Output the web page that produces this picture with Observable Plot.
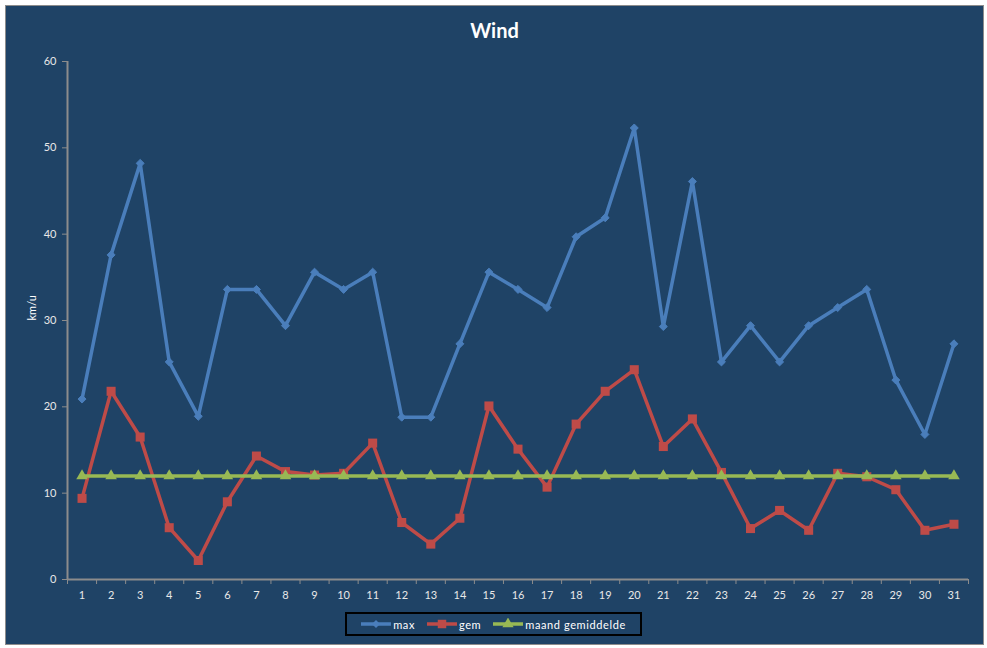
<!DOCTYPE html>
<html>
<head>
<meta charset="utf-8">
<script src="https://cdn.jsdelivr.net/npm/d3@7"></script>
<script src="https://cdn.jsdelivr.net/npm/@observablehq/plot@0.6"></script>
<style>
  body { margin: 0; background: #ffffff; font-family: Lato, "Open Sans", sans-serif; }
  #frame { position: absolute; left: 5px; top: 5px; width: 979px; height: 640px; box-sizing: border-box;
           border: 1px solid #8c8c8c; background: #1f4366; overflow: hidden; }
  #title { position: absolute; left: 0; top: 12px; width: 100%; text-align: center; color: #ffffff;
           font-weight: bold; font-size: 20px; line-height: 24px; }
  #chart { position: absolute; left: 0; top: 40px; }
  #legend { position: absolute; left: 339px; top: 606px; width: 297px; height: 24px; box-sizing: border-box;
            border: 2px solid #000000; display: flex; align-items: center; justify-content: center;
            color: #ffffff; font-size: 11px; letter-spacing: 0.6px; }
  .item { display: flex; align-items: center; margin: 0 6px; }
  .item svg { margin-right: 2px; }
</style>
</head>
<body>
<div id="frame">
  <div id="title">Wind</div>
  <div id="chart"></div>
  <div id="legend"></div>
</div>
<script>
const days = [1,2,3,4,5,6,7,8,9,10,11,12,13,14,15,16,17,18,19,20,21,22,23,24,25,26,27,28,29,30,31];
const maxValues = [20.9,37.6,48.2,25.2,18.9,33.6,33.6,29.4,35.6,33.6,35.6,18.8,18.8,27.3,35.6,33.6,31.5,39.7,41.9,52.3,29.3,46.1,25.2,29.4,25.2,29.4,31.5,33.6,23.1,16.8,27.3];
const gemValues = [9.4,21.8,16.5,6.0,2.2,9.0,14.3,12.5,12.1,12.3,15.8,6.6,4.1,7.1,20.1,15.1,10.7,18.0,21.8,24.3,15.4,18.6,12.4,5.9,8.0,5.7,12.3,11.9,10.4,5.7,6.4];
const maandGemiddelde = [12.0,12.0,12.0,12.0,12.0,12.0,12.0,12.0,12.0,12.0,12.0,12.0,12.0,12.0,12.0,12.0,12.0,12.0,12.0,12.0,12.0,12.0,12.0,12.0,12.0,12.0,12.0,12.0,12.0,12.0,12.0];
const yTicks = [0,10,20,30,40,50,60];
const seriesNames = ["max", "gem", "maand gemiddelde"];
const yLabel = "km/u";

const rows = days.map((d, i) => ({day: d, max: maxValues[i], gem: gemValues[i], avg: maandGemiddelde[i]}));
const boundaries = [days[0] - 0.5, ...days.map(d => d + 0.5)];

const colors = ["#4a7ebb", "#be4b48", "#98b954"];
const axisColor = "#8c8c8c";
const textColor = "#e8e8e8";

const chart = Plot.plot({
  width: 977,
  height: 560,
  marginLeft: 61,
  marginRight: 15,
  marginTop: 15,
  marginBottom: 27,
  style: {background: "transparent", color: textColor, fontFamily: "Lato, 'Open Sans', sans-serif", fontSize: "11px", overflow: "visible"},
  x: {type: "linear", domain: [boundaries[0], boundaries[boundaries.length - 1]]},
  y: {domain: [0, 60]},
  marks: [
    Plot.axisY({ticks: yTicks, tickSize: 5, tickPadding: 6, stroke: axisColor, fill: textColor, label: null, fontSize: 11}),
    Plot.axisX({ticks: boundaries, tickSize: 5, tickFormat: () => "", stroke: axisColor, label: null}),
    Plot.axisX({ticks: days, tickSize: 0, tickPadding: 12, fill: textColor, label: null, fontSize: 11, tickFormat: d => String(d)}),
    Plot.ruleX([boundaries[0]], {stroke: axisColor, strokeWidth: 2}),
    Plot.ruleY([0], {stroke: axisColor, strokeWidth: 2}),
    Plot.text([yLabel], {text: d => d, frameAnchor: "left", dx: -35, rotate: -90, fill: "#ffffff", fontSize: 11}),
    Plot.line(rows, {x: "day", y: "max", stroke: colors[0], strokeWidth: 3.5}),
    Plot.dot(rows, {x: "day", y: "max", symbol: "diamond2", r: 3.6, fill: colors[0], stroke: colors[0], strokeWidth: 1}),
    Plot.line(rows, {x: "day", y: "gem", stroke: colors[1], strokeWidth: 3.5}),
    Plot.dot(rows, {x: "day", y: "gem", symbol: "square", r: 5.1, fill: colors[1], stroke: "none"}),
    Plot.line(rows, {x: "day", y: "avg", stroke: colors[2], strokeWidth: 3.5}),
    Plot.dot(rows, {x: "day", y: "avg", symbol: "triangle", r: 4.3, fill: colors[2], stroke: "none"})
  ]
});
document.getElementById("chart").appendChild(chart);

// Legend
const symbols = [d3.symbolDiamond2, d3.symbolSquare, d3.symbolTriangle];
const sizes = [40, 72, 55];
const legend = d3.select("#legend");
seriesNames.forEach((name, i) => {
  const item = legend.append("div").attr("class", "item");
  const svg = item.append("svg").attr("width", 30).attr("height", 12);
  svg.append("line").attr("x1", 0).attr("x2", 30).attr("y1", 6).attr("y2", 6)
    .attr("stroke", colors[i]).attr("stroke-width", 3.5);
  svg.append("path").attr("d", d3.symbol(symbols[i], sizes[i])())
    .attr("transform", "translate(15,6)").attr("fill", colors[i]);
  item.append("span").text(name);
});
</script>
</body>
</html>
